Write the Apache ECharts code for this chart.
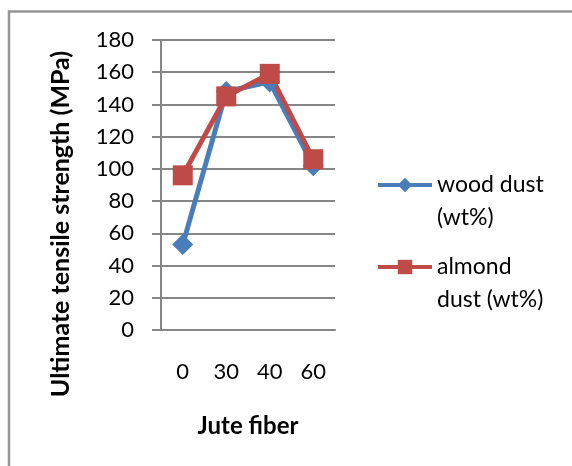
<!DOCTYPE html>
<html>
<head>
<meta charset="utf-8">
<script src="https://cdn.jsdelivr.net/npm/echarts@6/dist/echarts.min.js"></script>
<style>html,body{margin:0;padding:0;background:#fff;}#c{width:572px;height:466px;}</style>
</head>
<body>
<div id="c"></div>
<script>
const categories = ['0', '30', '40', '60'];
const woodDust = [53, 148, 154, 102];
const almondDust = [96, 145, 159, 106];
const yTicks = [0, 20, 40, 60, 80, 100, 120, 140, 160, 180];
const seriesNames = ['wood dust\n(wt%)', 'almond\ndust (wt%)'];
const xTitle = 'Jute fiber';
const yTitle = 'Ultimate tensile strength (MPa)';

const FONT = 'Lato, "Open Sans", sans-serif';
const chart = echarts.init(document.getElementById('c'), null, {renderer: 'canvas'});
const legendBase = {
  orient: 'vertical', left: 376, padding: 0, itemWidth: 54, itemHeight: 18, itemGap: 0,
  selectedMode: false,
  formatter: n => ' \n' + n,
  lineStyle: {width: 4},
  textStyle: {fontFamily: FONT, fontSize: 23, color: '#000', lineHeight: 33}
};
chart.setOption({
  animation: false,
  backgroundColor: '#fff',
  grid: {left: 161, right: 237, top: 40, bottom: 136, containLabel: false},
  legend: [
    Object.assign({}, legendBase, {data: [seriesNames[0]], top: 185 - 49.5}),
    Object.assign({}, legendBase, {data: [seriesNames[1]], top: 267 - 49.5})
  ],
  graphic: [
    {type: 'rect', z: -1, shape: {x: 9, y: 11.5, width: 700, height: 600},
     style: {fill: 'none', stroke: '#959595', lineWidth: 2.5}},
    {type: 'text', x: 61, y: 224, rotation: Math.PI / 2,
     style: {text: yTitle, fontFamily: FONT, fontWeight: 'bold', fontSize: 25, fill: '#000',
             align: 'center', verticalAlign: 'middle'}}
  ],
  xAxis: {
    type: 'category', data: categories, boundaryGap: true,
    name: xTitle, nameLocation: 'middle', nameGap: 84,
    nameTextStyle: {fontFamily: FONT, fontWeight: 'bold', fontSize: 24, color: '#000'},
    axisLine: {lineStyle: {color: '#868686', width: 2}},
    axisTick: {show: false},
    axisLabel: {margin: 31, fontFamily: FONT, fontSize: 22, color: '#000'}
  },
  yAxis: {
    type: 'value', min: yTicks[0], max: yTicks[yTicks.length - 1], interval: yTicks[1] - yTicks[0],
    axisLine: {show: true, lineStyle: {color: '#868686', width: 2}},
    axisTick: {show: true, length: 9, lineStyle: {color: '#868686', width: 2}},
    splitLine: {lineStyle: {color: '#868686', width: 2}},
    axisLabel: {margin: 27, fontFamily: FONT, fontSize: 22, color: '#000'}
  },
  series: [
    {name: seriesNames[0], type: 'line', data: woodDust, symbol: 'diamond', symbolSize: 21,
     lineStyle: {color: '#4a7ebb', width: 5}, itemStyle: {color: '#4a7ebb'}},
    {name: seriesNames[1], type: 'line', data: almondDust, symbol: 'rect', symbolSize: 20,
     lineStyle: {color: '#be4b48', width: 5}, itemStyle: {color: '#be4b48'}}
  ]
});
</script>
</body>
</html>
